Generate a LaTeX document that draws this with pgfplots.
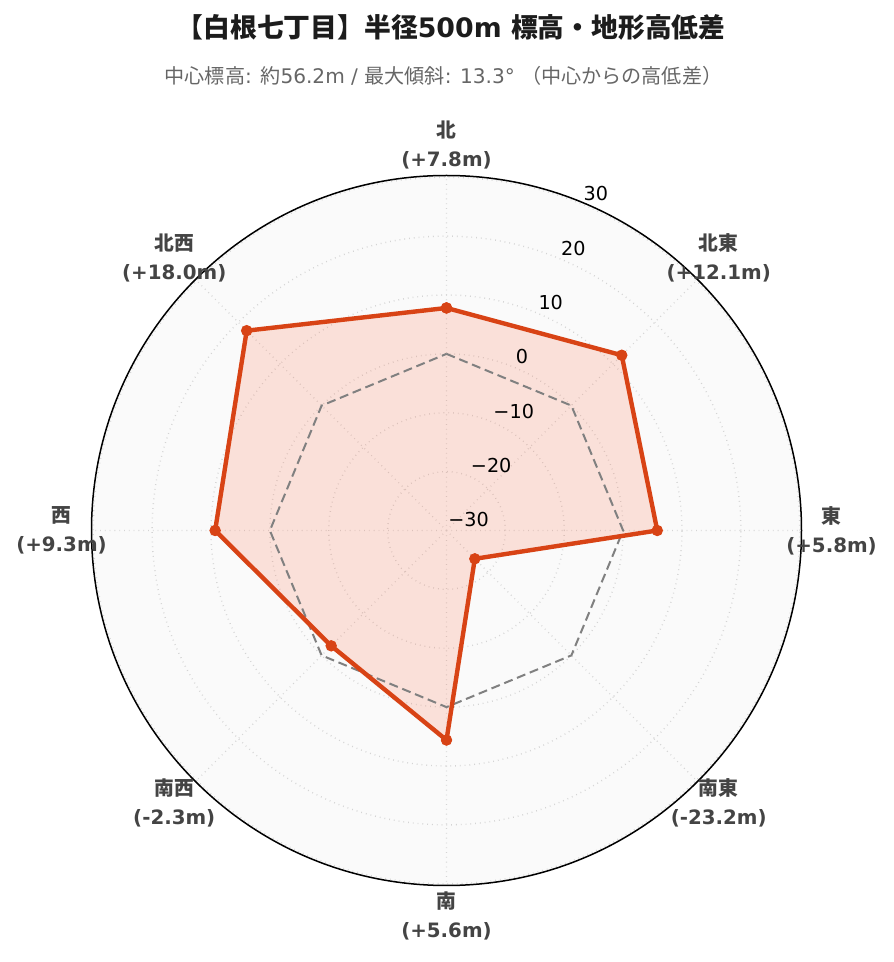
\documentclass[border=0pt]{standalone}
\usepackage{pgfplots}
\pgfplotsset{compat=1.18}
\usepgfplotslibrary{polar}
\usepackage{pgfplotstable}
\usepackage{fontspec}
\setmainfont{DejaVu Sans}
\newfontfamily\cjk{Noto Sans CJK JP}
\definecolor{redline}{RGB}{216,67,21}
\definecolor{redfill}{RGB}{255,111,72}
\definecolor{bgpolar}{RGB}{250,250,250}
\definecolor{gridc}{RGB}{212,212,212}
\definecolor{lblc}{RGB}{68,68,68}
\definecolor{subc}{RGB}{102,102,102}
\definecolor{titc}{RGB}{28,28,28}
\definecolor{zeroc}{RGB}{128,128,128}

% angle (deg, math convention) and elevation difference (m)
\pgfplotstableread{
a v
90 7.8
45 12.1
0 5.8
-45 -23.2
-90 5.6
-135 -2.3
180 9.3
135 18.0
90 7.8
}\elev
\pgfplotstableread{
a v
90 0
45 0
0 0
-45 0
-90 0
-135 0
180 0
135 0
90 0
}\zero

\tikzset{
  dirlbl/.style={align=center, text=lblc, font=\bfseries\fontsize{9.9}{14.5}\selectfont},
  ticklbl/.style={anchor=base west, inner sep=0pt, xshift=0.75pt, yshift=1.75pt, text=black, font=\fontsize{9.6}{11}\selectfont},
}

\begin{document}
\begin{tikzpicture}
\path[use as bounding box] (0,0) rectangle (446.5pt,481pt);
\node[font=\bfseries\fontsize{13.4}{16}\selectfont, text=titc] at (225.5pt,467.5pt)
  {{\cjk 【白根七丁目】半径}500m {\cjk 標高・地形高低差}};
\node[font=\fontsize{10.05}{12}\selectfont, text=subc] at (221.75pt,443pt)
  {{\cjk 中心標高}: {\cjk 約}56.2m / {\cjk 最大傾斜}: 13.3° {\cjk （中心からの高低差）}};
\begin{polaraxis}[
  at={(223.25pt,215.75pt)}, anchor=center,
  width=355pt, height=355pt, scale only axis,
  xmin=0, xmax=360,
  ymin=0, ymax=60.3,
  xtick={0,45,...,315},
  ytick={0,10,...,60},
  xticklabels={}, yticklabels={},
  xmajorgrids, ymajorgrids,
  major grid style={gridc, dotted, line width=0.7pt},
  x axis line style={black, line width=0.75pt},
  y axis line style={draw=none},
  major tick length=0pt,
  axis background/.style={fill=bgpolar},
  clip=false,
]
\addplot[draw=none, fill=redfill, fill opacity=0.18] table[x=a, y expr=\thisrow{v}+30] {\elev};
\addplot[zeroc, line width=1pt, dash pattern=on 4.5pt off 2.4pt] table[x=a, y expr=\thisrow{v}+30] {\zero};
\addplot[redline, line width=2.2pt, mark=*, mark size=2.6pt, mark options={solid, fill=redline, draw=redline, line width=0.5pt}] table[x=a, y expr=\thisrow{v}+30] {\elev};

\node[dirlbl] at (axis cs:90,65.4) {{\cjk 北}\\(+7.8m)};
\node[dirlbl] at (axis cs:45,65.4) {{\cjk 北東}\\(+12.1m)};
\node[dirlbl] at (axis cs:0,65.4) {{\cjk 東}\\(+5.8m)};
\node[dirlbl] at (axis cs:-45,65.4) {{\cjk 南東}\\(-23.2m)};
\node[dirlbl] at (axis cs:-90,65.4) {{\cjk 南}\\(+5.6m)};
\node[dirlbl] at (axis cs:-135,65.4) {{\cjk 南西}\\(-2.3m)};
\node[dirlbl] at (axis cs:180,65.4) {{\cjk 西}\\(+9.3m)};
\node[dirlbl] at (axis cs:135,65.4) {{\cjk 北西}\\(+18.0m)};

\node[ticklbl] at (axis cs:67.5,0) {−30};
\node[ticklbl] at (axis cs:67.5,10) {−20};
\node[ticklbl] at (axis cs:67.5,20) {−10};
\node[ticklbl] at (axis cs:67.5,30) {0};
\node[ticklbl] at (axis cs:67.5,40) {10};
\node[ticklbl] at (axis cs:67.5,50) {20};
\node[ticklbl] at (axis cs:67.5,60) {30};
\end{polaraxis}
\end{tikzpicture}
\end{document}
